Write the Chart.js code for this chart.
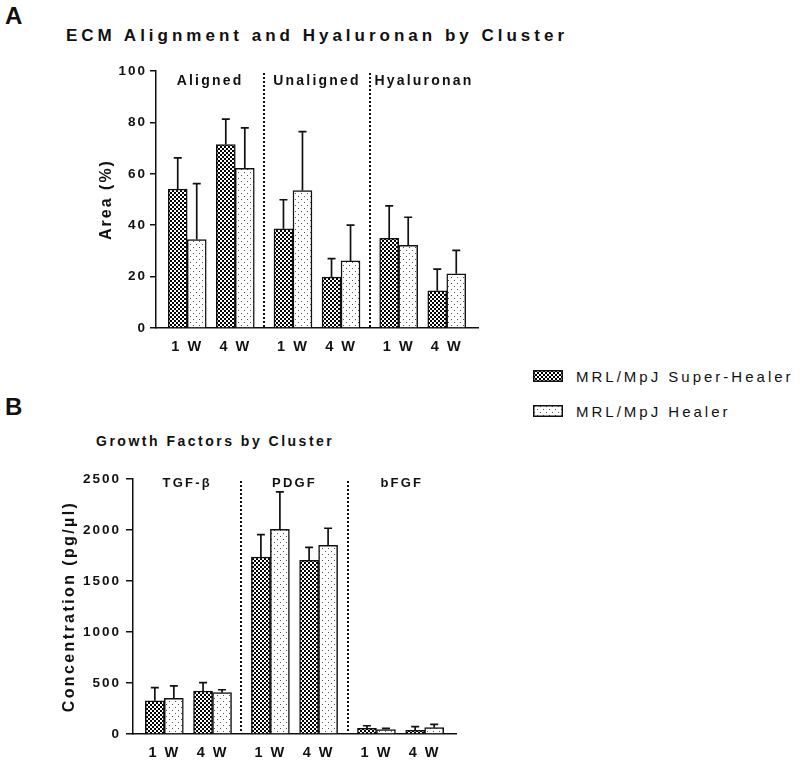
<!DOCTYPE html>
<html>
<head>
<meta charset="utf-8">
<script src="https://cdn.jsdelivr.net/npm/chart.js@4.4.1/dist/chart.umd.min.js"></script>
<style>
  body { margin: 0; background: #fff; }
  #page { position: relative; width: 800px; height: 762px; font-family: "Liberation Sans", Arial, sans-serif; color: #111; }
  .txt { position: absolute; line-height: 1; white-space: nowrap; }
  #page canvas { position: absolute; }
</style>
</head>
<body>
<div id="page">
  <div class="txt" style="left:5px;top:4px;font-size:24px;font-weight:bold">A</div>
  <div class="txt" style="left:66px;top:27px;font-size:17px;font-weight:bold;letter-spacing:4px">ECM Alignment and Hyaluronan by Cluster</div>
  <canvas id="chart-a" width="500" height="370" style="left:0;top:0"></canvas>
  <div class="txt" style="left:5px;top:395px;font-size:24px;font-weight:bold">B</div>
  <div class="txt" style="left:96px;top:434px;font-size:14px;font-weight:bold;letter-spacing:2.5px">Growth Factors by Cluster</div>
  <canvas id="chart-b" width="500" height="362" style="left:0;top:400px"></canvas>
  <div id="legend"></div>
</div>
<script>
const weeks = ["1 W", "4 W"];
const seriesNames = ["MRL/MpJ Super-Healer", "MRL/MpJ Healer"];

// panel A - area (%)
const clustersA = ["Aligned", "Unaligned", "Hyaluronan"];
const superA = [54.1, 71.4, 38.6, 19.8, 34.9, 14.5];
const superAErr = [12.1, 9.9, 11.3, 7.2, 12.6, 8.4];
const healerA = [34.4, 62.1, 53.5, 26.1, 32.2, 21.1];
const healerAErr = [21.8, 15.8, 22.9, 13.9, 10.9, 9.1];
const yTicksA = [0, 20, 40, 60, 80, 100];

// panel B - concentration (pg/µl)
const clustersB = ["TGF-β", "PDGF", "bFGF"];
const superB = [326, 422, 1735, 1703, 56, 35];
const superBErr = [128, 81, 219, 127, 25, 37];
const healerB = [350, 405, 2007, 1850, 44, 62];
const healerBErr = [121, 29, 366, 167, 12, 32];
const yTicksB = [0, 500, 1000, 1500, 2000, 2500];

const FONT = '"Liberation Sans", Arial, sans-serif';
const INK = "#111";
const STEP = 2.2;   // distance between cluster starts, in week units
const PAD = 0.65;   // room left/right of the outer bars

function makePattern(kind) {
  const t = document.createElement("canvas");
  const g = t.getContext("2d");
  if (kind === "check") {
    t.width = t.height = 4;
    g.fillStyle = "#000";
    g.fillRect(0, 0, 4, 4);
    g.fillStyle = "#fff";
    g.fillRect(0, 0, 2, 2);
    g.fillRect(2, 2, 2, 2);
  } else {
    t.width = t.height = 6;
    g.fillStyle = "#fff";
    g.fillRect(0, 0, 6, 6);
    g.fillStyle = "#555";
    g.fillRect(1, 1, 1, 1);
    g.fillRect(4, 4, 1, 1);
  }
  return g.createPattern(t, "repeat");
}
const patterns = [makePattern("check"), makePattern("dots")];

const spacing = {
  id: "spacing",
  beforeUpdate(c) { c.ctx.letterSpacing = "2px"; },
  beforeDraw(c) { c.ctx.letterSpacing = "2px"; }
};

function decor(o) {
  return {
    id: "decor",
    afterDatasetsDraw(chart) {
      const { ctx, chartArea: a, scales: { x, y } } = chart;
      ctx.save();
      ctx.strokeStyle = INK;
      ctx.lineWidth = 1.7;
      // one-sided error bars
      [o.superErr, o.healerErr].forEach((errs, di) => {
        const vals = di ? o.healerVals : o.superVals;
        chart.getDatasetMeta(di).data.forEach((bar, i) => {
          const top = y.getPixelForValue(vals[i]);
          const end = y.getPixelForValue(vals[i] + errs[i]);
          ctx.beginPath();
          ctx.moveTo(bar.x, top);
          ctx.lineTo(bar.x, end);
          ctx.moveTo(bar.x - 4, end);
          ctx.lineTo(bar.x + 4, end);
          ctx.stroke();
        });
      });
      // dotted dividers between clusters
      const bounds = [x.min];
      ctx.lineWidth = 2;
      ctx.setLineDash([2, 2]);
      for (let c = 1; c < o.clusters.length; c++) {
        const v = c * STEP - (STEP - 1) / 2;
        bounds.push(v);
        const px = Math.round(x.getPixelForValue(v));
        ctx.beginPath();
        ctx.moveTo(px, a.top + 2);
        ctx.lineTo(px, a.bottom);
        ctx.stroke();
      }
      bounds.push(x.max);
      ctx.setLineDash([]);
      // cluster names
      ctx.fillStyle = INK;
      ctx.font = "bold " + o.clusterSize + "px " + FONT;
      ctx.letterSpacing = o.clusterSpacing;
      ctx.textAlign = "center";
      ctx.textBaseline = "alphabetic";
      o.clusters.forEach((name, c) => {
        const cx = x.getPixelForValue((bounds[c] + bounds[c + 1]) / 2);
        ctx.fillText(name, cx, a.top + o.clusterBase);
      });
      // y axis title
      ctx.font = "bold 16px " + FONT;
      ctx.letterSpacing = o.titleSpacing;
      ctx.textBaseline = "middle";
      ctx.translate(o.titleX, (a.top + a.bottom) / 2);
      ctx.rotate(-Math.PI / 2);
      ctx.fillText(o.yTitle, 0, 0);
      ctx.restore();
    }
  };
}

function buildChart(id, o) {
  const xPos = o.clusters.flatMap((c, ci) => weeks.map((w, wi) => ci * STEP + wi));
  const vals = [o.superVals, o.healerVals];
  return new Chart(document.getElementById(id), {
    type: "bar",
    data: {
      datasets: seriesNames.map((name, di) => ({
        label: name,
        data: vals[di].map((v, i) => ({ x: xPos[i], y: v })),
        backgroundColor: patterns[di],
        borderColor: INK,
        borderWidth: 1.5,
        barThickness: 19
      }))
    },
    options: {
      responsive: false,
      animation: false,
      devicePixelRatio: 1,
      layout: { padding: o.padding },
      plugins: { legend: { display: false }, tooltip: { enabled: false } },
      scales: {
        x: {
          type: "linear",
          offset: false,
          min: -PAD,
          max: (o.clusters.length - 1) * STEP + 1 + PAD,
          afterBuildTicks: s => { s.ticks = xPos.map(v => ({ value: v })); },
          afterFit: s => { s.height = o.xHeight; },
          ticks: {
            callback: (v, i) => weeks[i % 2],
            font: { family: FONT, size: 14.5, weight: "bold" },
            color: INK,
            padding: 10,
            autoSkip: false,
            maxRotation: 0
          },
          grid: { display: false, drawTicks: false },
          border: { display: true, color: INK, width: 1.5 }
        },
        y: {
          min: 0,
          max: o.yTicks[o.yTicks.length - 1],
          afterBuildTicks: s => { s.ticks = o.yTicks.map(v => ({ value: v })); },
          afterFit: s => { s.width = o.yWidth; },
          ticks: {
            callback: v => String(v),
            font: { family: FONT, size: 13.5, weight: "bold" },
            color: INK,
            padding: o.tickPad
          },
          grid: { drawOnChartArea: false, drawTicks: true, tickLength: o.tickLen, color: INK, lineWidth: 1.5 },
          border: { display: true, color: INK, width: 1.5 }
        }
      }
    },
    plugins: [spacing, decor(o)]
  });
}

buildChart("chart-a", {
  clusters: clustersA, superVals: superA, healerVals: healerA,
  superErr: superAErr, healerErr: healerAErr, yTicks: yTicksA,
  padding: { top: 71, right: 22, left: 0, bottom: 0 },
  yWidth: 156, xHeight: 42, tickLen: 6, tickPad: 3,
  clusterSize: 14, clusterSpacing: "2.2px", clusterBase: 13.5,
  yTitle: "Area (%)", titleX: 107, titleSpacing: "2px"
});

buildChart("chart-b", {
  clusters: clustersB, superVals: superB, healerVals: healerB,
  superErr: superBErr, healerErr: healerBErr, yTicks: yTicksB,
  padding: { top: 79, right: 44, left: 0, bottom: 0 },
  yWidth: 133, xHeight: 28, tickLen: 7, tickPad: 5,
  clusterSize: 13, clusterSpacing: "2.2px", clusterBase: 8,
  yTitle: "Concentration (pg/µl)", titleX: 70, titleSpacing: "2.4px"
});

// legend
const legend = document.getElementById("legend");
seriesNames.forEach((name, i) => {
  const top = 370 + i * 35;
  const sw = document.createElement("canvas");
  sw.width = 30;
  sw.height = 12;
  sw.style.left = "533px";
  sw.style.top = top + "px";
  const g = sw.getContext("2d");
  g.fillStyle = patterns[i];
  g.fillRect(0, 0, 30, 12);
  g.strokeStyle = INK;
  g.lineWidth = 1.5;
  g.strokeRect(0.75, 0.75, 28.5, 10.5);
  legend.appendChild(sw);
  const t = document.createElement("div");
  t.className = "txt";
  t.style.cssText = "left:576px;top:" + (top - 1) + "px;font-size:15px;letter-spacing:3px";
  t.textContent = name;
  legend.appendChild(t);
});
</script>
</body>
</html>
